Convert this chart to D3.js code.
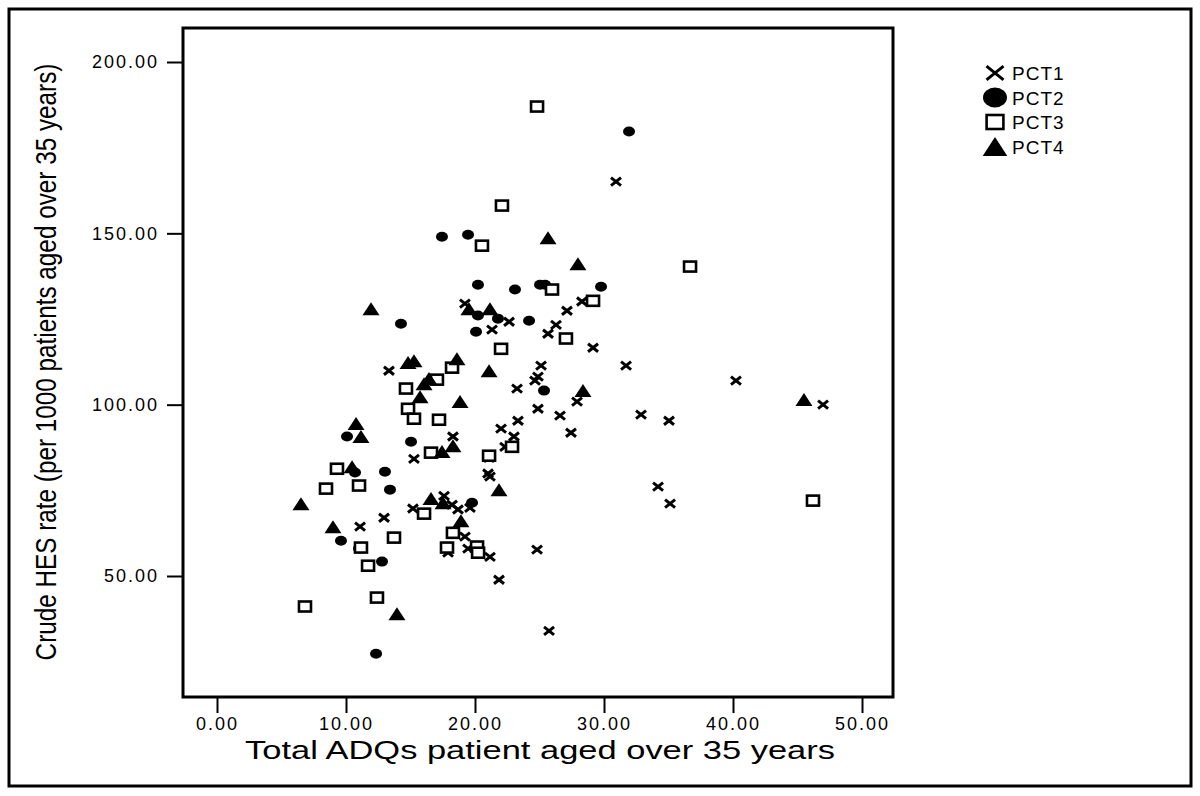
<!DOCTYPE html>
<html>
<head>
<meta charset="utf-8">
<script src="https://cdn.jsdelivr.net/npm/d3@7"></script>
<style>
  body { margin: 0; background: #fff; }
  svg { display: block; }
  .tick text { font-family: "Liberation Sans", Arial, sans-serif; font-size: 18px; letter-spacing: 2px; fill: #000; }
  .tick line { stroke: #000; stroke-width: 2; }
</style>
</head>
<body>
<svg id="chart" width="1200" height="796"></svg>
<script>
// values, one array per PCT
var pct1X = [30.93, 31.71, 40.23, 46.98, 32.87, 35.04, 34.19, 35.12, 25.74, 24.81, 21.86, 21.16,
  19.46, 17.91, 19.22, 18.22, 18.68, 19.61, 17.60, 15.19, 12.95, 11.09, 15.27, 18.29, 13.33,
  19.22, 22.64, 21.32, 27.13, 26.28, 25.66, 28.29, 29.15, 25.12, 24.88, 24.65, 23.26, 27.91,
  24.88, 26.59, 27.44, 23.33, 22.02, 23.02, 22.33, 21.09, 21.01, 21.16];
var pct1Y = [165.1, 111.4, 107.0, 100.0, 97.1, 95.3, 76.1, 71.1, 34.0, 57.7, 48.9, 55.6,
  58.0, 56.8, 61.5, 70.8, 69.4, 69.9, 73.4, 69.7, 67.0, 64.4, 84.2, 90.7, 109.9,
  129.5, 124.2, 121.9, 127.4, 123.3, 120.7, 130.1, 116.6, 111.4, 108.2, 107.0, 104.7, 100.9,
  98.8, 96.8, 91.8, 95.3, 93.0, 90.7, 87.7, 84.5, 79.9, 79.0];

var pct2X = [31.94, 17.44, 19.46, 20.23, 23.10, 25.04, 25.43, 29.77, 20.23, 21.78, 24.19, 20.08,
  14.26, 25.35, 15.04, 10.08, 10.70, 13.02, 13.41, 19.77, 9.61, 11.01, 12.79, 12.33];
var pct2Y = [179.7, 149.0, 149.6, 135.0, 133.6, 135.0, 135.0, 134.4, 126.0, 125.1, 124.5, 121.3,
  123.6, 104.1, 89.2, 90.7, 80.2, 80.4, 75.2, 71.4, 60.3, 58.0, 54.2, 27.3];

var pct3X = [24.81, 22.09, 20.54, 36.67, 25.97, 29.15, 27.05, 22.02, 18.22, 17.05, 14.65, 14.81,
  15.27, 17.21, 16.59, 21.09, 22.87, 9.30, 8.45, 11.01, 16.05, 18.29, 13.72, 17.83, 20.16,
  20.24, 11.16, 11.71, 12.40, 6.82, 46.20];
var pct3Y = [187.0, 158.1, 146.4, 140.3, 133.6, 130.3, 119.3, 116.3, 110.8, 107.3, 104.7, 98.8,
  95.9, 95.6, 86.0, 85.1, 87.7, 81.3, 75.5, 76.4, 68.2, 62.6, 61.2, 58.3, 58.6,
  56.8, 58.3, 53.0, 43.7, 41.1, 72.0];

var pct4X = [25.66, 27.98, 11.94, 19.53, 21.16, 14.81, 15.27, 18.60, 21.09, 16.05, 16.43, 15.74,
  18.84, 28.37, 45.50, 10.78, 11.16, 18.29, 17.44, 10.47, 6.51, 16.59, 17.52, 21.86, 18.91,
  8.99, 13.95];
var pct4Y = [148.7, 141.1, 128.0, 128.0, 128.0, 112.3, 112.8, 113.4, 109.9, 106.1, 107.6, 102.3,
  100.9, 104.1, 101.5, 94.5, 90.7, 88.0, 86.3, 81.9, 71.1, 72.6, 71.4, 75.2, 66.1,
  64.4, 39.0];

var groupNames = ["PCT1", "PCT2", "PCT3", "PCT4"];
var xTicks = [0, 10, 20, 30, 40, 50];
var yTicks = [50, 100, 150, 200];

var svg = d3.select("#chart");
var font = "'Liberation Sans', Arial, sans-serif";

var frame = { left: 183, top: 28, right: 893, bottom: 697 };

var x = d3.scaleLinear().domain([0, 50]).range([217, 862]);
var y = d3.scaleLinear().domain([50, 200]).range([576, 62]);

// outer border
svg.append("rect")
  .attr("x", 9).attr("y", 9).attr("width", 1182).attr("height", 777)
  .attr("fill", "none").attr("stroke", "#000").attr("stroke-width", 3);

// axes
var xAxis = svg.append("g")
  .attr("transform", "translate(0," + frame.bottom + ")")
  .call(d3.axisBottom(x).tickValues(xTicks).tickFormat(d3.format(".2f")).tickSize(16).tickPadding(4));
xAxis.select(".domain").remove();

var yAxis = svg.append("g")
  .attr("transform", "translate(" + frame.left + ",0)")
  .call(d3.axisLeft(y).tickValues(yTicks).tickFormat(d3.format(".2f")).tickSize(16).tickPadding(8));
yAxis.select(".domain").remove();

// plot frame
svg.append("rect")
  .attr("x", frame.left).attr("y", frame.top)
  .attr("width", frame.right - frame.left).attr("height", frame.bottom - frame.top)
  .attr("fill", "none").attr("stroke", "#000").attr("stroke-width", 3);

// axis titles
svg.append("text")
  .attr("x", 540).attr("y", 759)
  .attr("text-anchor", "middle")
  .attr("font-family", font).attr("font-size", 25)
  .attr("textLength", 590).attr("lengthAdjust", "spacingAndGlyphs")
  .text("Total ADQs patient aged over 35 years");

// narrow, tall lettering: stretch the glyph height instead of squeezing the width
svg.append("text")
  .attr("transform", "translate(56,362) rotate(-90) scale(1,1.2)")
  .attr("text-anchor", "middle")
  .attr("font-family", font).attr("font-size", 24.3)
  .text("Crude HES rate (per 1000 patients aged over 35 years)");

// marker drawers, scale k for the legend
function drawCross(g, k) {
  var a = 5 * k, b = 4 * k;
  g.append("path")
    .attr("d", "M" + (-a) + "," + (-b) + "L" + a + "," + b + "M" + (-a) + "," + b + "L" + a + "," + (-b))
    .attr("stroke", "#000").attr("stroke-width", 3).attr("fill", "none");
}
function drawDot(g, k) {
  g.append("ellipse").attr("rx", 6 * k).attr("ry", 5 * k).attr("fill", "#000");
}
function drawSquare(g, k) {
  g.append("rect")
    .attr("x", -6 * k).attr("y", -5 * k).attr("width", 12 * k).attr("height", 10 * k)
    .attr("fill", "#fff").attr("stroke", "#000").attr("stroke-width", 2.6);
}
function drawTriangle(g, k) {
  var w = 8.5 * k, h = 6.5 * k;
  g.append("path")
    .attr("d", "M0," + (-h) + "L" + w + "," + h + "L" + (-w) + "," + h + "Z")
    .attr("fill", "#000");
}

var series = [
  { xs: pct1X, ys: pct1Y, draw: drawCross },
  { xs: pct2X, ys: pct2Y, draw: drawDot },
  { xs: pct3X, ys: pct3Y, draw: drawSquare },
  { xs: pct4X, ys: pct4Y, draw: drawTriangle }
];

var marks = svg.append("g");
series.forEach(function (s) {
  s.xs.forEach(function (v, i) {
    var g = marks.append("g")
      .attr("transform", "translate(" + x(v) + "," + y(s.ys[i]) + ")");
    s.draw(g, 1);
  });
});

// legend
var legend = svg.append("g").attr("transform", "translate(995,73)");
var legendScale = [1.7, 2.0, 1.4, 1.45];
groupNames.forEach(function (name, i) {
  var row = legend.append("g").attr("transform", "translate(0," + (i * 24.5) + ")");
  series[i].draw(row, legendScale[i]);
  row.append("text")
    .attr("x", 17).attr("y", 7)
    .attr("font-family", font).attr("font-size", 19).attr("letter-spacing", 1)
    .text(name);
});
</script>
</body>
</html>
